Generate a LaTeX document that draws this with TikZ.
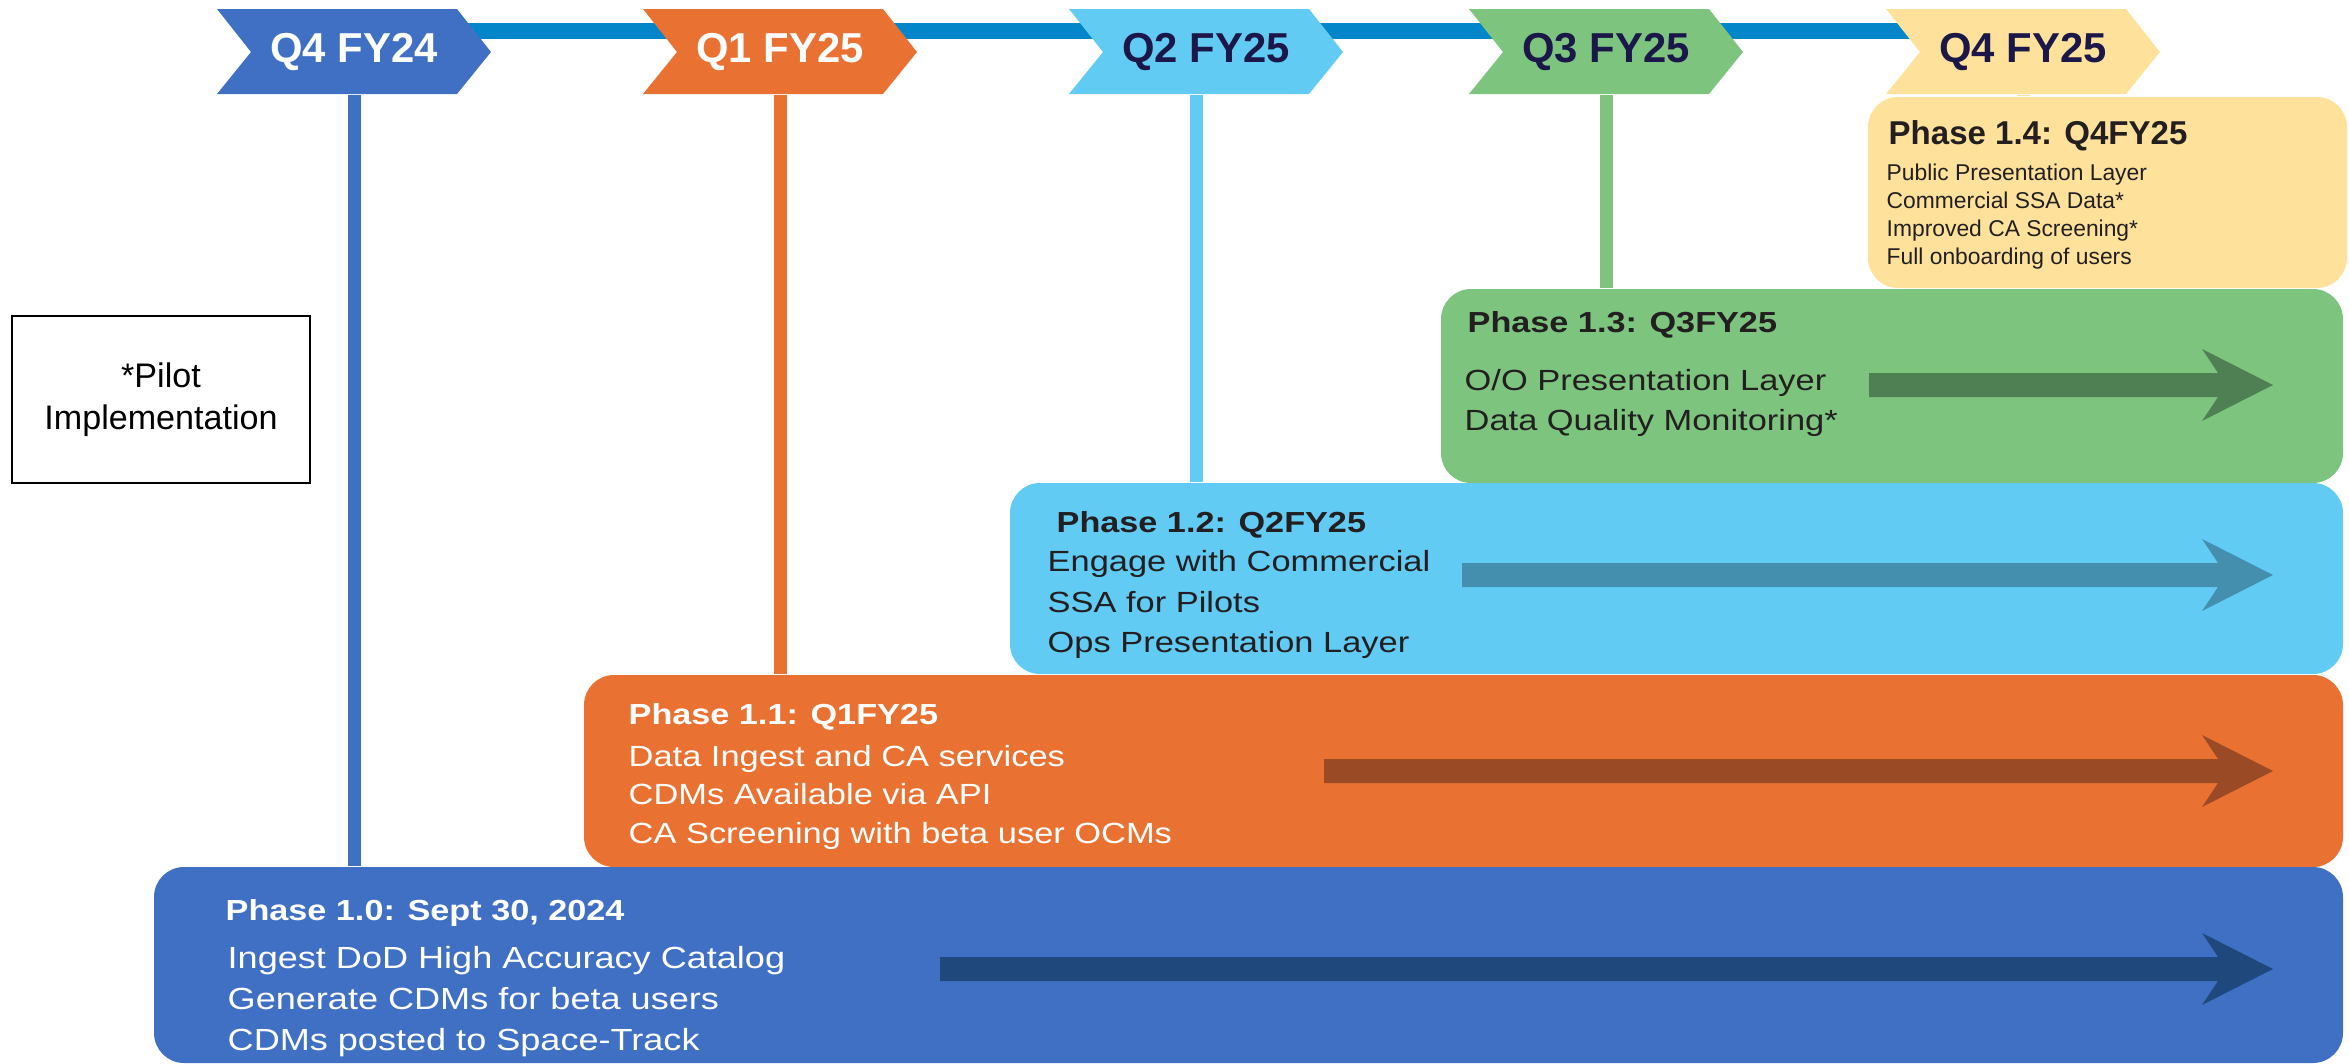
\documentclass[tikz,border=0pt]{standalone}
\usepackage{fontspec}
\setmainfont{Liberation Sans}
\newfontfamily\widesans[FakeStretch=1.18]{Liberation Sans}
\usepackage{tikz}
\usetikzlibrary{backgrounds}
\definecolor{qblue}{HTML}{4070C4}
\definecolor{qorange}{HTML}{E97132}
\definecolor{qsky}{HTML}{61CBF4}
\definecolor{qgreen}{HTML}{7DC57F}
\definecolor{qyellow}{HTML}{FEE29C}
\definecolor{qnavy}{HTML}{1B1748}
\definecolor{tlblue}{HTML}{0086C9}
\definecolor{darkblue}{HTML}{1F497D}
\definecolor{darkorange}{HTML}{9A4B25}
\definecolor{darksky}{HTML}{458FAE}
\definecolor{darkgreen}{HTML}{4F8054}
\definecolor{inkgray}{HTML}{231F20}

\begin{document}
\begin{tikzpicture}[x=0.1mm, y=-0.1mm, % 1 Einheit = 1 Pixel, y nach unten
    chevtext/.style={minimum width=24mm, minimum height=8.5mm, inner sep=0pt,
        font=\bfseries\fontsize{11.9}{12}\selectfont},
    phasebox/.style={rounded corners=3mm, inner sep=0pt},
    phasetitle/.style={anchor=base west, inner sep=0pt,
        font=\widesans\bfseries\fontsize{8.25}{10}\selectfont},
    phaseline/.style={anchor=base west, inner sep=0pt,
        font=\widesans\fontsize{8.3}{10}\selectfont},
    stem/.style={line width=1.3mm},
    timeline/.style={line width=1.6mm, tlblue}]

    \useasboundingbox (0,0) rectangle (2349,1064);

    % Quartale als Chevrons
    \foreach \nm/\x/\col/\tcol/\lbl in {
        q4fy24/217/qblue/white/Q4 FY24, q1fy25/643/qorange/white/Q1 FY25,
        q2fy25/1069/qsky/qnavy/Q2 FY25, q3fy25/1469/qgreen/qnavy/Q3 FY25,
        q4fy25/1886/qyellow/qnavy/Q4 FY25
    } {
        \fill[\col] (\x,9) -- (\x+240,9) -- (\x+274,52) -- (\x+240,94) -- (\x,94) -- (\x+34,52) -- cycle;
        \node[chevtext, text=\tcol] (\nm) at (\x+137,52) {\lbl};
    }

    % Zeitstrahl hinter den Chevrons
    \begin{scope}[on background layer]
        \draw[timeline] ([yshift=-2.2mm]q4fy24.north) -- ([yshift=-2.2mm]q4fy25.north);
    \end{scope}

    % Phasen-Kaesten
    \node[phasebox, fill=qyellow, minimum width=47.9mm, minimum height=19.1mm] (ph14) at (2107.5,192.5) {};
    \node[phasebox, fill=qgreen, minimum width=90.2mm, minimum height=19.4mm] (ph13) at (1892,386) {};
    \node[phasebox, fill=qsky, minimum width=133.3mm, minimum height=19.1mm] (ph12) at (1676.5,578.5) {};
    \node[phasebox, fill=qorange, minimum width=175.9mm, minimum height=19.2mm] (ph11) at (1463.5,771) {};
    \node[phasebox, fill=qblue, minimum width=218.9mm, minimum height=19.6mm] (ph10) at (1248.5,965) {};

    % Senkrechte Verbindungen
    \draw[stem, qblue] (q4fy24.south) -- (q4fy24.south |- ph10.north);
    \draw[stem, qorange] (q1fy25.south) -- (q1fy25.south |- ph11.north);
    \draw[stem, qsky] ([xshift=-1mm]q2fy25.south) -- ([xshift=-1mm]q2fy25.south |- ph12.north);
    \draw[stem, qgreen] (q3fy25.south) -- (q3fy25.south |- ph13.north);
    \draw[stem, qyellow] (q4fy25.south) -- (q4fy25.south |- ph14.north);

    % Pfeile in den Kaesten
    \foreach \y/\xs/\col in {385/1869/darkgreen, 575/1462/darksky, 771/1324/darkorange, 969/940/darkblue} {
        \fill[\col] (\xs,\y-12) -- (2218,\y-12) -- (2202,\y-36) -- (2273,\y) -- (2202,\y+36) -- (2218,\y+12) -- (\xs,\y+12) -- cycle;
    }

    % Phase 1.4
    \node[anchor=base west, inner sep=0pt, text=inkgray, font=\bfseries\fontsize{9.4}{10}\selectfont] (ph14title) at (1888,144) {Phase 1.4: Q4FY25};
    \foreach \ln [count=\i] in {Public Presentation Layer, Commercial SSA Data*, Improved CA Screening*, Full onboarding of users} {
        \node[phaseline, text=inkgray, font=\fontsize{6.5}{8}\selectfont] (ph14l\i) at (1886,152+28*\i) {\ln};
    }

    % Phase 1.3
    \node[phasetitle, text=inkgray] (ph13title) at (1467,332) {Phase 1.3: Q3FY25};
    \foreach \ln [count=\i] in {O/O Presentation Layer, Data Quality Monitoring*} {
        \node[phaseline, text=inkgray] (ph13l\i) at (1464,350+40*\i) {\ln};
    }

    % Phase 1.2
    \node[phasetitle, text=inkgray] (ph12title) at (1056,532) {Phase 1.2: Q2FY25};
    \foreach \ln [count=\i] in {Engage with Commercial, SSA for Pilots, Ops Presentation Layer} {
        \node[phaseline, text=inkgray] (ph12l\i) at (1047,531+40.5*\i) {\ln};
    }

    % Phase 1.1
    \node[phasetitle, text=white] (ph11title) at (628,724) {Phase 1.1: Q1FY25};
    \foreach \ln [count=\i] in {Data Ingest and CA services, CDMs Available via API, CA Screening with beta user OCMs} {
        \node[phaseline, text=white] (ph11l\i) at (628,727.5+38.5*\i) {\ln};
    }

    % Phase 1.0
    \node[phasetitle, text=white] (ph10title) at (225,920) {Phase 1.0: Sept 30, 2024};
    \foreach \ln [count=\i] in {Ingest DoD High Accuracy Catalog, Generate CDMs for beta users, CDMs posted to Space-Track} {
        \node[phaseline, text=white, font=\widesans\fontsize{8.7}{10}\selectfont] (ph10l\i) at (227,927+41*\i) {\ln};
    }

    % Legende
    \node[draw, line width=0.85pt, minimum width=29.8mm, minimum height=16.7mm, align=center,
        font=\fontsize{9.7}{12}\selectfont] (pilot) at (161,399.5) {*Pilot\\Implementation};

\end{tikzpicture}
\end{document}
